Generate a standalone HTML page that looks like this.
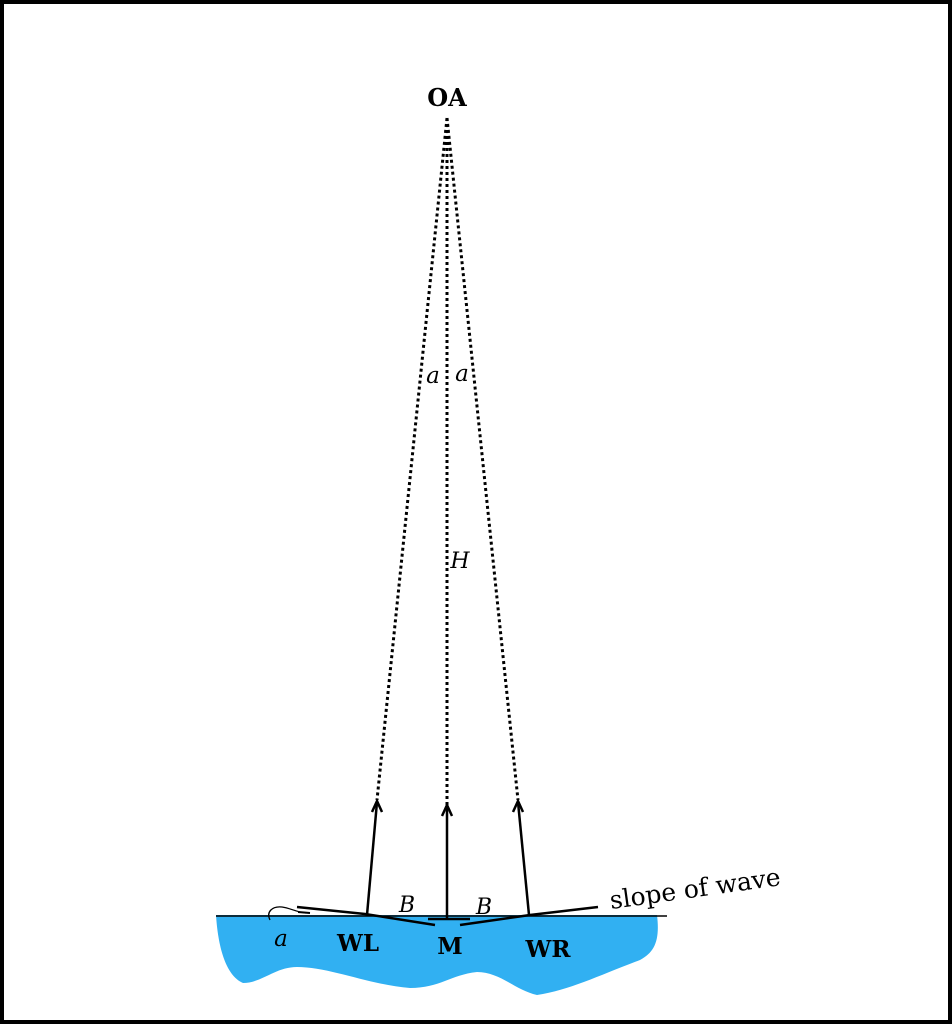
<!DOCTYPE html>
<html><head><meta charset="utf-8"><style>
html,body{margin:0;padding:0;background:#fff}
svg{display:block}
text{font-family:"DejaVu Serif","Liberation Serif",serif;fill:#000}
</style></head><body>
<svg width="952" height="1024" viewBox="0 0 952 1024" xmlns="http://www.w3.org/2000/svg">
<rect x="2" y="2" width="948" height="1020" fill="#fff" stroke="#000" stroke-width="4"/>
<path d="M216,915 L657,915 C660,940 655,952 640,960 C600,975 570,990 537,995 C515,990 500,972 477,972 C450,975 440,988 410,988 C370,985 330,967 297,967 C275,967 262,983 243,983 C225,975 218,945 216,915 Z" fill="#31b0f2"/>
<line x1="216" y1="916" x2="667" y2="916" stroke="#000" stroke-width="1.5"/>
<g stroke="#000" stroke-width="3" stroke-dasharray="3,3" fill="none">
<line x1="447" y1="118" x2="377" y2="800"/>
<line x1="447" y1="118" x2="447" y2="805"/>
<line x1="447" y1="118" x2="518" y2="800"/>
</g>
<g stroke="#000" stroke-width="2.5" fill="none">
<line x1="377" y1="802" x2="367" y2="915"/>
<line x1="447" y1="806" x2="447" y2="918"/>
<line x1="518" y1="802" x2="529" y2="915"/>
<polyline points="372,812 377,801 382,812"/>
<polyline points="442,816 447,805 452,816"/>
<polyline points="513,812 518,801 523,812"/>
<polyline points="297,907 365,914 435,925"/>
<polyline points="460,925 530,915 598,907"/>
<line x1="428" y1="919" x2="470" y2="919"/>
<line x1="298" y1="912" x2="310" y2="913" stroke-width="2"/>
</g>
<path d="M270,920 C266,912 272,906 282,907 C290,908 296,912 306,913" stroke="#000" stroke-width="1.3" fill="none"/>
<text x="447" y="106" font-size="24" font-weight="bold" text-anchor="middle">OA</text>
<text x="433" y="383" font-size="23" font-style="italic" text-anchor="middle">a</text>
<text x="462" y="381" font-size="23" font-style="italic" text-anchor="middle">a</text>
<text x="460" y="568" font-size="22" font-style="italic" text-anchor="middle">H</text>
<text x="407" y="912" font-size="22" font-style="italic" text-anchor="middle">B</text>
<text x="484" y="914" font-size="22" font-style="italic" text-anchor="middle">B</text>
<text x="281" y="946" font-size="23" font-style="italic" text-anchor="middle">a</text>
<text x="358" y="951" font-size="23" font-weight="bold" text-anchor="middle">WL</text>
<text x="450" y="954" font-size="23" font-weight="bold" text-anchor="middle">M</text>
<text x="548" y="957" font-size="23" font-weight="bold" text-anchor="middle">WR</text>
<text x="611" y="909" font-size="25" transform="rotate(-8 611 909)">slope of wave</text>
</svg>
</body></html>
